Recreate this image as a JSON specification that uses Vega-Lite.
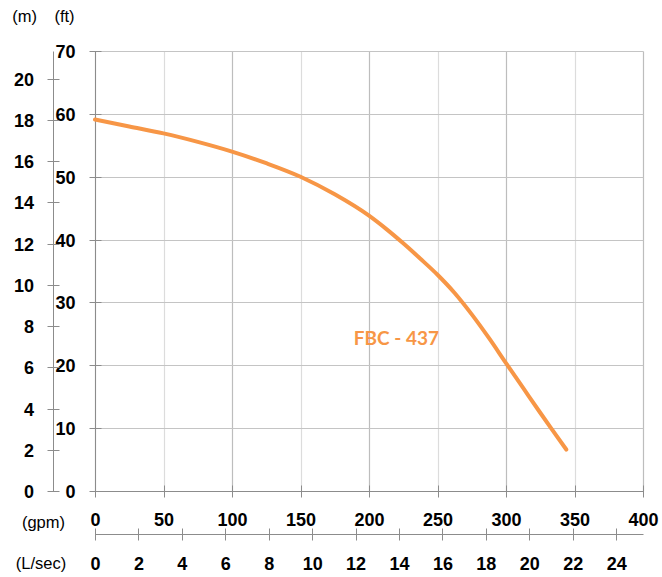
{
  "$schema": "https://vega.github.io/schema/vega-lite/v6.json",
  "width": 548,
  "height": 440,
  "autosize": {"type": "none"},
  "padding": {"left": 95, "top": 51, "right": 19, "bottom": 86},
  "background": "white",
  "config": {
    "view": {"stroke": null},
    "axis": {
      "labelFont": "Liberation Sans",
      "labelFontSize": 18,
      "labelFontWeight": "bold",
      "labelColor": "#000000",
      "titleFont": "Liberation Sans",
      "titleFontSize": 16.5,
      "titleFontWeight": "normal",
      "titleColor": "#000000",
      "domainColor": "#8c8c8c",
      "tickColor": "#8c8c8c",
      "domainWidth": 1,
      "tickWidth": 1,
      "labelFlush": false,
      "labelOverlap": false
    }
  },
  "datasets": {
    "curve": [
      {"gpm": 0, "ft": 59.1},
      {"gpm": 25, "ft": 58.0},
      {"gpm": 50, "ft": 56.9},
      {"gpm": 75, "ft": 55.55},
      {"gpm": 100, "ft": 54.0},
      {"gpm": 125, "ft": 52.15},
      {"gpm": 150, "ft": 50.0},
      {"gpm": 175, "ft": 47.2},
      {"gpm": 200, "ft": 43.8},
      {"gpm": 212.5, "ft": 41.7},
      {"gpm": 225, "ft": 39.4},
      {"gpm": 237.5, "ft": 36.95},
      {"gpm": 250, "ft": 34.4},
      {"gpm": 262.5, "ft": 31.5},
      {"gpm": 275, "ft": 28.1},
      {"gpm": 287.5, "ft": 24.35},
      {"gpm": 300, "ft": 20.35},
      {"gpm": 312.5, "ft": 16.4},
      {"gpm": 325, "ft": 12.45},
      {"gpm": 333, "ft": 9.97},
      {"gpm": 344, "ft": 6.6}
    ],
    "label": [{"gpm": 220, "ft": 24.2, "name": "FBC - 437"}],
    "units": [{"ls": 0, "m": 0}, {"ls": 24, "m": 20}]
  },
  "layer": [
    {
      "data": {"name": "curve"},
      "mark": {"type": "line", "color": "#F79646", "strokeWidth": 4, "interpolate": "monotone", "strokeCap": "round"},
      "encoding": {
        "x": {
          "field": "gpm", "type": "quantitative",
          "scale": {"domain": [0, 400], "nice": false, "zero": false},
          "axis": {
            "orient": "bottom", "offset": 0, "values": [0, 50, 100, 150, 200, 250, 300, 350, 400],
            "ticks": false, "domain": true, "grid": true,
            "gridColor": {"condition": {"test": "datum.value % 100 === 50", "value": "#dcdcdc"}, "value": "#bdbdbd"},
            "gridWidth": 1.2,
            "labelPadding": 29, "labelBaseline": "middle", "labelAlign": "center",
            "title": "(gpm)", "titleAngle": 0, "titleAlign": "center", "titleBaseline": "middle",
            "titleX": -52, "titleY": 31
          }
        },
        "y": {
          "field": "ft", "type": "quantitative",
          "scale": {"domain": [0, 70], "nice": false, "zero": false},
          "axis": {
            "orient": "left", "offset": 0, "values": [0, 10, 20, 30, 40, 50, 60, 70],
            "ticks": false, "domain": true, "grid": true, "gridColor": "#c4c4c4", "gridWidth": 1.2,
            "labelPadding": 20, "labelAlign": "right", "labelBaseline": "middle", "labelOffset": 1.5,
            "title": "(ft)", "titleAngle": 0, "titleAlign": "center", "titleBaseline": "middle",
            "titleX": -31, "titleY": -35
          }
        }
      }
    },
    {
      "data": {"name": "curve"},
      "mark": {"type": "point", "opacity": 0},
      "encoding": {
        "x": {
          "field": "gpm", "type": "quantitative",
          "scale": {"domain": [0, 400], "nice": false, "zero": false},
          "axis": {"orient": "bottom", "offset": -6, "values": [0, 50, 100, 150, 200, 250, 300, 350, 400],
            "ticks": true, "tickSize": 12, "domain": false, "labels": false, "grid": false, "title": null}
        },
        "y": {
          "field": "ft", "type": "quantitative",
          "scale": {"domain": [0, 70], "nice": false, "zero": false},
          "axis": {"orient": "left", "offset": -6, "values": [0, 10, 20, 30, 40, 50, 60, 70],
            "ticks": true, "tickSize": 12, "domain": false, "labels": false, "grid": false, "title": null}
        }
      }
    },
    {
      "data": {"name": "units"},
      "mark": {"type": "point", "opacity": 0},
      "encoding": {
        "x": {
          "field": "ls", "type": "quantitative",
          "scale": {"domain": [0, 25.236], "nice": false, "zero": false},
          "axis": {
            "orient": "bottom", "offset": 43, "values": [0, 2, 4, 6, 8, 10, 12, 14, 16, 18, 20, 22, 24],
            "ticks": false, "domain": true, "grid": false,
            "labelPadding": 30, "labelBaseline": "middle", "labelAlign": "center",
            "title": "(L/sec)", "titleAngle": 0, "titleAlign": "center", "titleBaseline": "middle",
            "titleX": -54.5, "titleY": 29
          }
        },
        "y": {
          "field": "m", "type": "quantitative",
          "scale": {"domain": [0, 21.336], "nice": false, "zero": false},
          "axis": {
            "orient": "left", "offset": 42, "values": [0, 2, 4, 6, 8, 10, 12, 14, 16, 18, 20],
            "ticks": false, "domain": true, "grid": false,
            "labelPadding": 19.5, "labelAlign": "right", "labelBaseline": "middle", "labelOffset": 1.5,
            "title": "(m)", "titleAngle": 0, "titleAlign": "center", "titleBaseline": "middle",
            "titleX": -29, "titleY": -35
          }
        }
      }
    },
    {
      "data": {"name": "units"},
      "mark": {"type": "point", "opacity": 0},
      "encoding": {
        "x": {
          "field": "ls", "type": "quantitative",
          "scale": {"domain": [0, 25.236], "nice": false, "zero": false},
          "axis": {"orient": "bottom", "offset": 37, "values": [0, 2, 4, 6, 8, 10, 12, 14, 16, 18, 20, 22, 24],
            "ticks": true, "tickSize": 12, "domain": false, "labels": false, "grid": false, "title": null}
        },
        "y": {
          "field": "m", "type": "quantitative",
          "scale": {"domain": [0, 21.336], "nice": false, "zero": false},
          "axis": {"orient": "left", "offset": 36, "values": [0, 2, 4, 6, 8, 10, 12, 14, 16, 18, 20],
            "ticks": true, "tickSize": 12, "domain": false, "labels": false, "grid": false, "title": null}
        }
      }
    },
    {
      "data": {"name": "label"},
      "mark": {"type": "text", "font": "Lato", "fontWeight": "bold", "fontSize": 19, "color": "#F79646", "align": "center", "baseline": "middle"},
      "encoding": {
        "x": {"field": "gpm", "type": "quantitative", "scale": {"domain": [0, 400], "nice": false, "zero": false}, "axis": null},
        "y": {"field": "ft", "type": "quantitative", "scale": {"domain": [0, 70], "nice": false, "zero": false}, "axis": null},
        "text": {"field": "name"}
      }
    }
  ],
  "resolve": {
    "scale": {"x": "independent", "y": "independent"},
    "axis": {"x": "independent", "y": "independent"}
  }
}
